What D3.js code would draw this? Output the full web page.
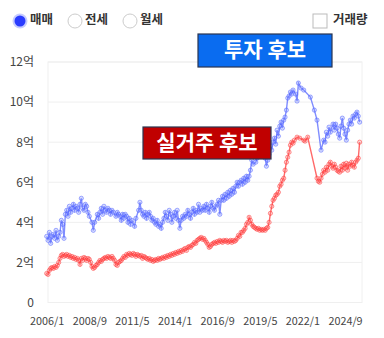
<!DOCTYPE html>
<html><head><meta charset="utf-8">
<script src="https://cdn.jsdelivr.net/npm/d3@7"></script>
<style>
body{margin:0;background:#fff;}
svg{display:block;font-family:"Noto Sans CJK KR","Noto Sans",sans-serif;}
</style></head>
<body><svg id="c" width="384" height="338"></svg>
<script>
// months since 2006/1
const tickLabels = ["2006/1","2008/9","2011/5","2014/1","2016/9","2019/5","2022/1","2024/9"];
const yTicks = [0,2,4,6,8,10,12];
const yTickLabels = ["0","2억","4억","6억","8억","10억","12억"];
const seriesNames = ["투자 후보","실거주 후보"];

const blueMonths = [0,1,2,3,4,5,6,7,8,9,10,11,12,13,14,15,16,17,18,19,20,21,22,23,24,25,26,27,28,29,30,31,32,34,35,36,38,39,40,41,42,43,44,45,46,47,48,49,50,52,53,54,55,56,57,58,59,60,61,62,63,64,66,67,69,70,71,72,73,74,75,76,77,78,79,80,81,82,83,84,85,86,87,88,89,90,91,92,93,94,95,96,97,98,99,100,101,102,103,104,105,106,107,108,109,110,111,112,113,114,115,116,117,118,119,120,121,122,123,124,125,126,127,128,129,130,131,132,133,134,135,136,137,138,139,140,141,142,143,144,145,146,147,148,149,150,151,152,153,154,155,157,158,160,162,164,165,166,167,168,169,170,171,172,173,174,175,176,177,178,179,180,181,182,183,184,185,187,188,189,191,193,198,201,203,206,208,209,210,211,212,213,215,216,217,218,219,220,221,222,223,224,225,226,227,228,229,230,231,232,233,234,235];
const blueValues = [3.3,3.1,3.5,2.95,3.3,3.4,3.2,3.6,3.1,3.3,3.5,4.1,3.9,3.2,4.4,4.6,4.3,4.8,4.5,4.7,4.9,4.6,4.8,4.7,4.5,4.9,5.2,4.7,4.6,4.9,4.8,4.5,4.3,4.0,3.6,4.0,4.4,4.2,4.5,4.7,4.4,4.8,4.6,4.5,4.7,4.6,4.4,4.6,4.5,4.3,4.5,4.4,4.3,4.1,4.4,4.2,4.4,4.3,4.0,4.2,3.9,4.1,3.8,4.2,4.6,5.0,4.6,4.4,4.3,4.5,4.2,4.4,4.5,4.3,4.1,4.2,4.0,3.9,4.1,3.8,3.9,3.7,4.0,4.2,4.5,4.3,4.1,4.6,4.4,4.0,4.3,4.5,4.2,4.6,4.1,3.7,4.1,4.3,4.2,4.4,4.3,4.6,4.4,4.2,4.5,4.7,4.4,4.6,4.5,4.9,4.5,4.7,4.6,4.8,4.6,4.9,4.7,4.5,4.8,5.0,4.7,4.6,4.8,4.9,5.1,4.4,5.1,5.3,5.1,5.4,5.2,5.5,5.3,5.6,5.4,5.7,5.5,5.8,6.0,5.8,6.0,6.1,5.9,6.2,6.0,6.3,6.1,6.3,6.6,7.1,6.9,7.0,7.2,7.3,7.45,7.2,6.8,7.1,7.4,7.8,7.6,8.0,8.2,7.9,8.6,8.3,8.8,9.0,8.7,9.1,9.25,9.6,10.2,10.3,10.5,10.4,10.6,10.4,10.05,10.95,10.7,10.6,10.25,9.6,9.1,7.6,8.1,8.0,8.5,8.3,8.75,8.5,8.9,8.6,8.9,8.7,8.4,8.2,8.8,9.2,8.7,8.4,8.1,8.6,8.9,9.1,8.9,9.3,9.2,9.4,9.5,9.3,9.0];

const redMonths = [0,1,2,3,4,5,6,7,8,9,10,11,12,13,14,15,16,17,18,19,20,21,22,23,24,25,26,27,28,29,30,31,32,33,34,35,36,37,38,39,40,41,42,43,44,45,46,47,48,49,50,51,52,53,54,55,56,57,58,59,60,61,62,63,64,65,66,67,68,69,70,71,72,73,74,75,76,77,78,79,80,81,82,83,84,85,86,87,88,89,90,91,92,93,94,95,96,97,98,99,100,101,102,103,104,105,106,107,108,109,110,111,112,113,114,115,116,117,118,119,120,121,122,123,124,125,126,127,128,129,130,131,132,133,134,135,136,137,138,139,140,141,142,143,144,145,146,147,148,149,150,151,152,153,154,155,156,157,158,159,160,161,162,163,164,165,166,167,168,169,170,171,172,173,174,175,176,177,178,179,180,181,182,183,184,185,186,188,190,193,194,196,203,204,205,206,207,208,209,210,211,212,213,214,215,216,217,218,219,220,221,222,223,224,225,226,227,228,229,230,231,232,233,234,235];
const redValues = [1.45,1.4,1.6,1.7,1.75,1.7,1.8,1.75,1.85,2.0,2.2,2.35,2.4,2.3,2.35,2.4,2.3,2.35,2.25,2.3,2.2,2.25,2.15,2.2,2.1,1.9,2.2,2.1,2.25,2.2,2.1,2.2,2.15,2.0,1.8,1.7,1.75,1.85,1.9,2.0,2.1,2.05,2.15,2.2,2.25,2.2,2.3,2.25,2.2,2.3,2.2,2.1,1.9,1.85,2.0,2.05,2.1,2.2,2.3,2.25,2.4,2.35,2.45,2.4,2.35,2.45,2.4,2.3,2.4,2.35,2.3,2.35,2.2,2.3,2.25,2.2,2.15,2.2,2.1,2.15,2.05,2.1,2.15,2.1,2.2,2.15,2.2,2.25,2.2,2.3,2.25,2.35,2.3,2.4,2.35,2.45,2.4,2.5,2.45,2.55,2.5,2.6,2.55,2.65,2.7,2.6,2.75,2.8,2.75,2.85,2.9,3.0,2.95,3.1,3.15,3.2,3.25,3.15,3.2,3.1,3.0,2.9,2.75,2.8,2.9,2.95,3.0,2.95,3.05,3.0,3.1,3.05,3.0,3.1,3.05,3.1,3.0,3.05,3.1,3.0,3.1,3.05,3.1,3.2,3.35,3.3,3.5,3.5,3.6,3.7,3.9,4.0,4.25,4.1,3.9,3.8,3.75,3.7,3.65,3.7,3.6,3.65,3.6,3.65,3.6,3.7,3.75,4.0,4.45,4.8,5.1,5.2,5.35,5.4,5.5,5.8,5.9,6.1,6.2,6.6,7.0,7.25,7.5,7.85,8.0,7.95,8.1,8.25,8.2,8.1,8.05,8.25,6.2,6.05,6.0,6.2,6.4,6.6,6.5,6.75,6.6,6.9,7.0,6.8,6.7,6.9,6.75,6.6,6.55,6.5,6.8,6.6,6.9,6.7,6.95,6.6,6.9,6.8,7.0,6.85,6.75,7.0,7.1,7.2,8.0];

const svg = d3.select("#c");
const plot = {left:48, right:362, top:62, bottom:302.5};

function monthIndex(s){const [y,m]=s.split("/").map(Number);return (y-2006)*12+(m-1);}

const x = d3.scaleLinear().domain([0, 224]).range([46.7, 345]);
const y = d3.scaleLinear().domain([0, 12]).range([plot.bottom, plot.top]);

// plot frame
svg.append("rect").attr("x",plot.left).attr("y",plot.top)
  .attr("width",plot.right-plot.left).attr("height",plot.bottom-plot.top)
  .attr("fill","none").attr("stroke","#f0f0f0").attr("stroke-width",1);

// gridlines
svg.append("g").selectAll("line").data(yTicks).join("line")
  .attr("x1",plot.left).attr("x2",plot.right)
  .attr("y1",d=>y(d)).attr("y2",d=>y(d))
  .attr("stroke","#efefef").attr("stroke-width",1);

// y axis labels
const yAxis = d3.axisLeft(y).tickValues(yTicks).tickSize(0).tickPadding(0)
  .tickFormat((d,i)=>yTickLabels[i]);
const gy = svg.append("g").attr("transform","translate(34,0)").call(yAxis);
gy.select(".domain").remove();
gy.selectAll("text").attr("font-size",12).attr("fill","#444")
  .attr("font-family","'Noto Sans CJK KR',sans-serif");

// x axis labels
const xAxis = d3.axisBottom(x).tickValues(tickLabels.map(monthIndex)).tickSize(0).tickPadding(0)
  .tickFormat((d,i)=>tickLabels[i]);
const gx = svg.append("g").attr("transform","translate(0,317)").call(xAxis);
gx.select(".domain").remove();
gx.selectAll("text").attr("font-size",10.8).attr("fill","#444")
  .attr("font-family","'Noto Sans CJK KR',sans-serif");

function drawSeries(months, values, color, fill){
  const pts = months.map((m,i)=>({m, v:values[i]}));
  const line = d3.line().x(d=>x(d.m)).y(d=>y(d.v));
  const g = svg.append("g");
  g.append("path").datum(pts).attr("d",line).attr("fill","none")
    .attr("stroke",color).attr("stroke-opacity",0.7).attr("stroke-width",1.4);
  g.selectAll("circle").data(pts).join("circle")
    .attr("cx",d=>x(d.m)).attr("cy",d=>y(d.v)).attr("r",2.1)
    .attr("fill",fill).attr("stroke",color).attr("stroke-opacity",0.55).attr("stroke-width",0.9);
}
drawSeries(redMonths, redValues, "#ff2a2a", "rgba(255,130,130,0.3)");
drawSeries(blueMonths, blueValues, "#4a5cff", "rgba(130,145,255,0.3)");

// labels
function labelBox(x0,y0,w,h,fill,text){
  svg.append("rect").attr("x",x0).attr("y",y0).attr("width",w).attr("height",h)
    .attr("fill",fill).attr("stroke","#2a3550").attr("stroke-width",1.2);
  svg.append("text").attr("x",x0+w/2).attr("y",y0+h/2+1).attr("text-anchor","middle")
    .attr("dominant-baseline","middle").attr("fill","#fff").attr("font-size",21)
    .attr("font-weight","bold").text(text);
}
labelBox(198,34,134,33,"#0a6cf0",seriesNames[0]);
labelBox(143,127,128,32,"#c00000",seriesNames[1]);

// top controls
const radios = [{cx:20,label:"매매",on:true},{cx:75,label:"전세",on:false},{cx:130,label:"월세",on:false}];
radios.forEach(r=>{
  if(r.on){
    svg.append("circle").attr("cx",r.cx).attr("cy",21).attr("r",7.5).attr("fill","#c6ccff");
    svg.append("circle").attr("cx",r.cx).attr("cy",21).attr("r",5.5).attr("fill","#2a3cff");
  } else {
    svg.append("circle").attr("cx",r.cx).attr("cy",21).attr("r",7).attr("fill","#fff")
      .attr("stroke","#ccc").attr("stroke-width",1);
  }
  svg.append("text").attr("x",r.cx+10).attr("y",21).attr("dominant-baseline","middle")
    .attr("font-size",12.5).attr("font-weight","bold").attr("fill","#333").text(r.label);
});
svg.append("rect").attr("x",313).attr("y",14).attr("width",14).attr("height",14)
  .attr("fill","#fff").attr("stroke","#bbb").attr("stroke-width",1);
svg.append("text").attr("x",333).attr("y",21).attr("dominant-baseline","middle")
  .attr("font-size",12.5).attr("font-weight","bold").attr("fill","#333").text("거래량");
</script></body></html>
